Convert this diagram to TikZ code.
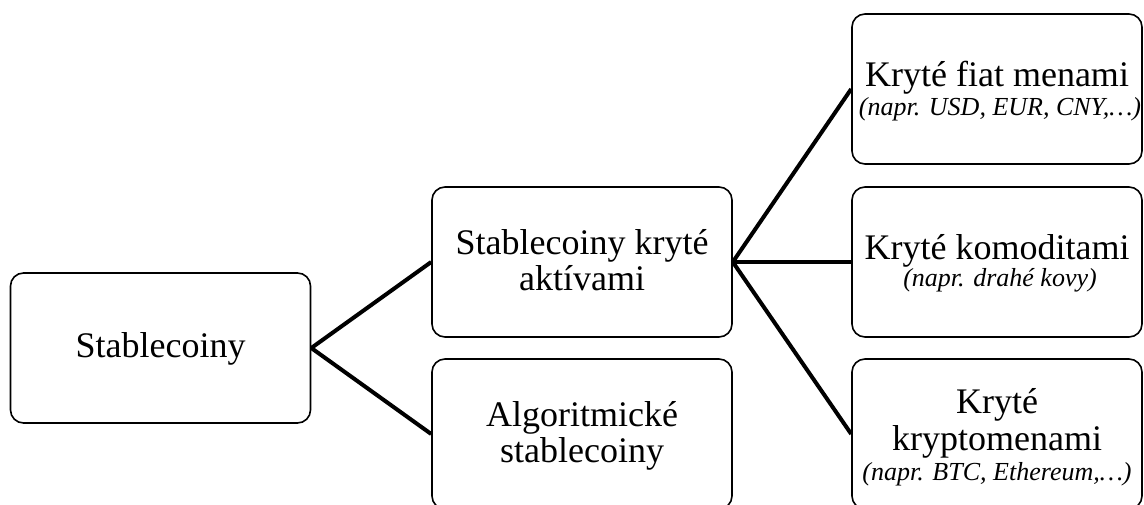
\documentclass[tikz,border=0pt]{standalone}
\usepackage{fontspec}
\setmainfont{Liberation Serif}
\begin{document}
\begin{tikzpicture}[x=1pt,y=-1pt,
  box/.style={draw, line width=1.6pt, rounded corners=13pt, minimum width=300pt, minimum height=150pt, inner sep=0pt, fill=white},
  rbox/.style={box, minimum width=290pt},
  maintxt/.style={inner sep=0pt, anchor=base, font=\fontsize{36}{36}\selectfont},
  subtxt/.style={inner sep=0pt, anchor=base, font=\fontsize{26}{26}\selectfont\itshape},
  link/.style={line width=4pt}]
\clip (0,0) rectangle (1144,504);
\fill[white] (0,0) rectangle (1144,504);
% boxes
\node[box]  (s) at (160.5,348) {};
\node[box]  (a) at (582,262) {};
\node[box]  (g) at (582,434) {};
\node[rbox] (f) at (997,89) {};
\node[rbox] (k) at (997,262) {};
\node[rbox] (c) at (997,434) {};
% connectors
\draw[link] (s.east) -- (a.west);
\draw[link] (s.east) -- (g.west);
\draw[link] (a.east) -- (f.west);
\draw[link] (a.east) -- (k.west);
\draw[link] (a.east) -- (c.west);
% texts
\node[maintxt] (s1) at (160.5,357) {Stablecoiny};
\node[maintxt] (a1) at (582,254) {Stablecoiny kryté};
\node[maintxt] (a2) at (582,290) {aktívami};
\node[maintxt] (g1) at (582,426) {Algoritmické};
\node[maintxt] (g2) at (582,462) {stablecoiny};
\node[maintxt] (f1) at (997,86) {Kryté fiat menami};
\node[subtxt]  (f2) at (1000,115) {(napr. USD, EUR, CNY,…)};
\node[maintxt] (k1) at (997,259) {Kryté komoditami};
\node[subtxt]  (k2) at (1000,286) {(napr. drahé kovy)};
\node[maintxt] (c1) at (997,413) {Kryté};
\node[maintxt] (c2) at (997,450) {kryptomenami};
\node[subtxt]  (c3) at (997,480) {(napr. BTC, Ethereum,…)};
\end{tikzpicture}
\end{document}
